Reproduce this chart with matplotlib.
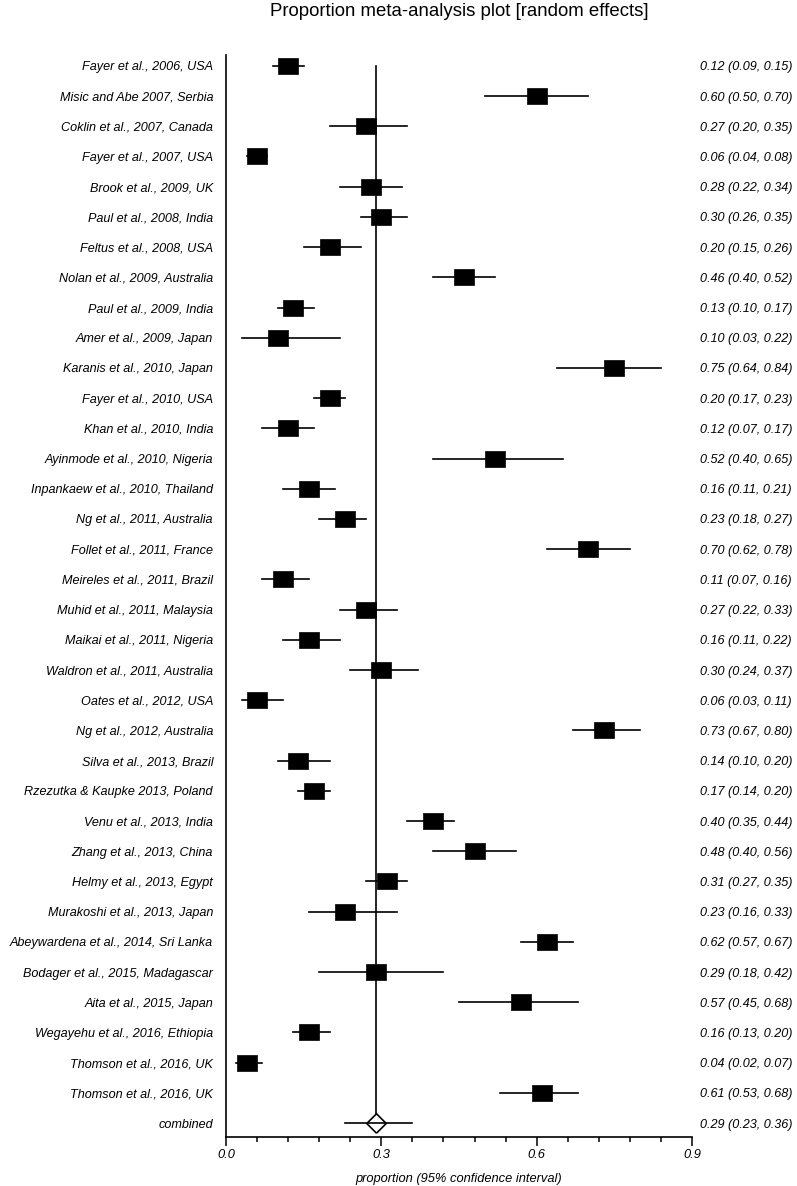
import matplotlib
matplotlib.use("Agg")
import matplotlib.pyplot as plt
import matplotlib.transforms as mtransforms
from matplotlib.ticker import MultipleLocator, FormatStrFormatter

studies = [
    "Fayer et al., 2006, USA",
    "Misic and Abe 2007, Serbia",
    "Coklin et al., 2007, Canada",
    "Fayer et al., 2007, USA",
    "Brook et al., 2009, UK",
    "Paul et al., 2008, India",
    "Feltus et al., 2008, USA",
    "Nolan et al., 2009, Australia",
    "Paul et al., 2009, India",
    "Amer et al., 2009, Japan",
    "Karanis et al., 2010, Japan",
    "Fayer et al., 2010, USA",
    "Khan et al., 2010, India",
    "Ayinmode et al., 2010, Nigeria",
    "Inpankaew et al., 2010, Thailand",
    "Ng et al., 2011, Australia",
    "Follet et al., 2011, France",
    "Meireles et al., 2011, Brazil",
    "Muhid et al., 2011, Malaysia",
    "Maikai et al., 2011, Nigeria",
    "Waldron et al., 2011, Australia",
    "Oates et al., 2012, USA",
    "Ng et al., 2012, Australia",
    "Silva et al., 2013, Brazil",
    "Rzezutka & Kaupke 2013, Poland",
    "Venu et al., 2013, India",
    "Zhang et al., 2013, China",
    "Helmy et al., 2013, Egypt",
    "Murakoshi et al., 2013, Japan",
    "Abeywardena et al., 2014, Sri Lanka",
    "Bodager et al., 2015, Madagascar",
    "Aita et al., 2015, Japan",
    "Wegayehu et al., 2016, Ethiopia",
    "Thomson et al., 2016, UK",
    "Thomson et al., 2016, UK",
]
estimate = [0.12, 0.60, 0.27, 0.06, 0.28, 0.30, 0.20, 0.46, 0.13, 0.10,
            0.75, 0.20, 0.12, 0.52, 0.16, 0.23, 0.70, 0.11, 0.27, 0.16,
            0.30, 0.06, 0.73, 0.14, 0.17, 0.40, 0.48, 0.31, 0.23, 0.62,
            0.29, 0.57, 0.16, 0.04, 0.61]
lower = [0.09, 0.50, 0.20, 0.04, 0.22, 0.26, 0.15, 0.40, 0.10, 0.03,
         0.64, 0.17, 0.07, 0.40, 0.11, 0.18, 0.62, 0.07, 0.22, 0.11,
         0.24, 0.03, 0.67, 0.10, 0.14, 0.35, 0.40, 0.27, 0.16, 0.57,
         0.18, 0.45, 0.13, 0.02, 0.53]
upper = [0.15, 0.70, 0.35, 0.08, 0.34, 0.35, 0.26, 0.52, 0.17, 0.22,
         0.84, 0.23, 0.17, 0.65, 0.21, 0.27, 0.78, 0.16, 0.33, 0.22,
         0.37, 0.11, 0.80, 0.20, 0.20, 0.44, 0.56, 0.35, 0.33, 0.67,
         0.42, 0.68, 0.20, 0.07, 0.68]
combined_label = "combined"
combined_est = 0.29
combined_lo = 0.23
combined_hi = 0.36
tick_values = [0.0, 0.3, 0.6, 0.9]

W, H = 797, 1186
fig = plt.figure(figsize=(W / 100, H / 100), dpi=100)
ax = fig.add_axes([226 / W, 1 - 1137 / H, 466 / W, (1137 - 55) / H])

FONT = "Liberation Sans"
FS = 9.1
n = len(studies)
rows = list(range(n))
crow = n

# vertical line at combined estimate
ax.plot([combined_est, combined_est], [0, crow], color="black", lw=1.2, zorder=1)

# CI lines
for i in rows:
    ax.plot([lower[i], upper[i]], [i, i], color="black", lw=1.2, zorder=2)

rect = [(-1, -0.8), (1, -0.8), (1, 0.8), (-1, 0.8), (-1, -0.8)]
ax.plot(estimate, rows, linestyle="none", marker=rect, markersize=14,
        markerfacecolor="black", markeredgecolor="black", markeredgewidth=0.5, zorder=3)

# combined
diamond = [(0, -1), (1, 0), (0, 1), (-1, 0), (0, -1)]
ax.plot([combined_est], [crow], linestyle="none", marker=diamond, markersize=14,
        markerfacecolor="white", markeredgecolor="black", markeredgewidth=1.2, zorder=3)
ax.plot([combined_lo, combined_hi], [crow, crow], color="black", lw=1.2, zorder=4)

ax.set_xlim(tick_values[0], tick_values[-1])
ax.set_ylim(crow + 0.46, -0.36)
ax.set_yticks([])
for s in ["top", "right"]:
    ax.spines[s].set_visible(False)
ax.spines["left"].set_linewidth(1.2)
ax.spines["bottom"].set_linewidth(1.2)
ax.set_xticks(tick_values)
ax.xaxis.set_minor_locator(MultipleLocator(0.06))
ax.tick_params(axis="x", which="major", length=6.5, width=1.1, pad=2)
ax.tick_params(axis="x", which="minor", length=3.8, width=1.1)
ax.xaxis.set_major_formatter(FormatStrFormatter("%.1f"))
for lab in ax.get_xticklabels():
    lab.set_fontfamily(FONT)
    lab.set_fontstyle("italic")
    lab.set_fontsize(9.3)

ax.set_xlabel("proportion (95% confidence interval)", fontfamily=FONT, fontstyle="italic",
              fontsize=9.3, labelpad=9)

left_tr = mtransforms.blended_transform_factory(fig.transFigure, ax.transData)
labels_all = studies + [combined_label]
ests_all = estimate + [combined_est]
lo_all = lower + [combined_lo]
hi_all = upper + [combined_hi]
for i, lab in enumerate(labels_all):
    ax.text(213 / W, i, lab, transform=left_tr, ha="right", va="center_baseline",
            fontfamily=FONT, fontstyle="italic", fontsize=FS)
    ax.text(700 / W, i, f"{ests_all[i]:.2f} ({lo_all[i]:.2f}, {hi_all[i]:.2f})",
            transform=left_tr, ha="left", va="center_baseline",
            fontfamily=FONT, fontstyle="italic", fontsize=FS)

fig.text(459 / W, 1 - 11 / H, "Proportion meta-analysis plot [random effects]",
         ha="center", va="center", fontfamily=FONT, fontsize=13.4)

fig.savefig("out.png", dpi=100)
